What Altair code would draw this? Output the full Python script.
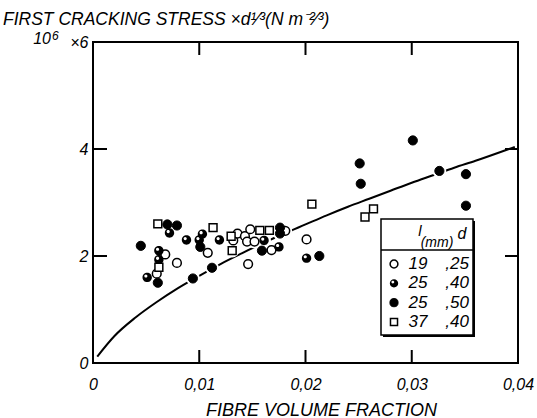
import altair as alt
import pandas as pd

# ---------------- data ----------------
open_x = [0.0068, 0.0060, 0.0079, 0.0108, 0.0132, 0.0136, 0.0143, 0.0146, 0.0148, 0.0145, 0.0152, 0.0168, 0.0181, 0.0201]
open_y = [2.03, 1.67, 1.87, 2.06, 2.29, 2.42, 2.37, 1.85, 2.50, 2.27, 2.27, 2.11, 2.47, 2.31]

half_x = [0.0051, 0.0062, 0.0062, 0.0072, 0.0088, 0.0103, 0.0100, 0.0119, 0.0161, 0.0175, 0.0201]
half_y = [1.60, 2.10, 1.93, 2.43, 2.30, 2.41, 2.30, 2.30, 2.29, 2.17, 1.96]

filled_x = [0.0045, 0.0061, 0.0070, 0.0079, 0.0101, 0.0094, 0.0112, 0.0159, 0.0176, 0.0176,
            0.0213, 0.0251, 0.0252, 0.0301, 0.0326, 0.0351, 0.0351]
filled_y = [2.19, 1.50, 2.59, 2.57, 2.17, 1.58, 1.78, 2.10, 2.53, 2.42,
            2.00, 3.73, 3.35, 4.16, 3.59, 3.53, 2.94]

square_x = [0.0061, 0.0062, 0.0113, 0.0130, 0.0131, 0.0157, 0.0166, 0.0206, 0.0256, 0.0264]
square_y = [2.60, 1.79, 2.53, 2.37, 2.10, 2.48, 2.48, 2.97, 2.73, 2.88]

curve_x = [0.0004, 0.002, 0.004, 0.006, 0.008, 0.010, 0.012, 0.014, 0.016, 0.018,
           0.020, 0.022, 0.024, 0.026, 0.028, 0.030, 0.032, 0.034, 0.036, 0.0397]
curve_y = [0.12, 0.50, 0.85, 1.14, 1.40, 1.63, 1.85, 2.05, 2.24, 2.42,
           2.59, 2.76, 2.92, 3.07, 3.22, 3.37, 3.51, 3.65, 3.78, 4.04]

x_ticks = [0, 0.01, 0.02, 0.03, 0.04]
x_inner_ticks = [0.01, 0.02, 0.03]
y_ticks = [0, 2, 4, 6]
y_inner_ticks = [2, 4]

leg_kind = ["open", "half", "filled", "square"]
leg_l = ["19", "25", "25", "37"]
leg_d = [",25", ",40", ",50", ",40"]

title_text = "FIRST CRACKING STRESS ×d¹⁄³(N m⁻²⁄³)"
x_title = "FIBRE VOLUME FRACTION"
y_mult_base = "10"
y_mult_exp = "6"

# ---------------- frames ----------------
pts = pd.concat([
    pd.DataFrame({"x": open_x, "y": open_y, "kind": "open"}),
    pd.DataFrame({"x": half_x, "y": half_y, "kind": "half"}),
    pd.DataFrame({"x": filled_x, "y": filled_y, "kind": "filled"}),
    pd.DataFrame({"x": square_x, "y": square_y, "kind": "square"}),
], ignore_index=True)
curve = pd.DataFrame({"x": curve_x, "y": curve_y})
xt = pd.DataFrame({"v": x_inner_ticks})
yt = pd.DataFrame({"v": y_inner_ticks})
one = pd.DataFrame({"t": [title_text], "b": [y_mult_base], "e": [y_mult_exp]})
leg = pd.DataFrame({"kind": leg_kind, "l": leg_l, "d": leg_d})

FONT = "Liberation Sans"
HALF = "M-1,0A1,1,0,1,0,1,0A1,1,0,1,0,-1,0ZM-0.62,-0.3A0.34,0.34,0,1,1,0.06,-0.3A0.34,0.34,0,1,1,-0.62,-0.3Z"

xs = alt.Scale(domain=[0, 0.04], nice=False, zero=False)
ys = alt.Scale(domain=[0, 6], nice=False, zero=False)

xaxis = alt.Axis(values=x_ticks, labelExpr="replace(format(datum.value, '.2~f'), '.', ',')",
                 ticks=False, domain=False, grid=False, labelPadding=13, labelFlush=False,
                 labelFont=FONT, labelFontSize=16, labelFontStyle="italic", labelColor="black",
                 title=x_title, titleFont=FONT, titleFontSize=18, titleFontStyle="italic",
                 titleFontWeight="normal", titleColor="black", titlePadding=9, titleX=228)
yaxis = alt.Axis(values=y_ticks,
                 labelExpr="datum.value == 6 ? '×6' : format(datum.value, 'd')",
                 ticks=False, domain=False, grid=False, labelPadding=5, labelFlush=False,
                 labelFont=FONT, labelFontSize=16, labelFontStyle="italic", labelColor="black",
                 labelLimit=200, title=None)

X = alt.X("x:Q", scale=xs, axis=xaxis)
Y = alt.Y("y:Q", scale=ys, axis=yaxis)

line = alt.Chart(curve).mark_line(color="black", strokeWidth=2, interpolate="monotone").encode(x=X, y=Y)
halo = alt.Chart(pts).mark_circle(color="white", size=190, opacity=1).encode(x=X, y=Y)

def layer_kind(kind, mark):
    return alt.Chart(pts).transform_filter(alt.datum.kind == kind).mark_point(**mark).encode(x=X, y=Y)

M_OPEN = dict(shape="circle", filled=True, fill="white", stroke="black", strokeWidth=1.5, size=76, opacity=1)
M_HALF = dict(shape=HALF, filled=True, fill="black", size=88, opacity=1)
M_FILLED = dict(shape="circle", filled=True, fill="black", stroke="black", strokeWidth=1, size=84, opacity=1)
M_SQUARE = dict(shape="square", filled=True, fill="white", stroke="black", strokeWidth=1.5, size=62, opacity=1)

p_open = layer_kind("open", M_OPEN)
p_half = layer_kind("half", M_HALF)
p_filled = layer_kind("filled", M_FILLED)
p_square = layer_kind("square", M_SQUARE)

bot_ticks = alt.Chart(xt).mark_rule(color="black", strokeWidth=2).encode(
    x=alt.X("v:Q", scale=xs), y=alt.value(308), y2=alt.value(321))
top_ticks = alt.Chart(xt).mark_rule(color="black", strokeWidth=2).encode(
    x=alt.X("v:Q", scale=xs), y=alt.value(0), y2=alt.value(13))
left_ticks = alt.Chart(yt).mark_rule(color="black", strokeWidth=2).encode(
    y=alt.Y("v:Q", scale=ys), x=alt.value(0), x2=alt.value(14))
right_ticks = alt.Chart(yt).mark_rule(color="black", strokeWidth=2).encode(
    y=alt.Y("v:Q", scale=ys), x=alt.value(412), x2=alt.value(425))

title = alt.Chart(one).mark_text(align="left", baseline="alphabetic", font=FONT, fontSize=17.5,
                                 fontStyle="italic", color="black").encode(
    text="t:N", x=alt.value(-90), y=alt.value(-17))
mult_base = alt.Chart(one).mark_text(align="right", baseline="alphabetic", font=FONT, fontSize=16,
                                     fontStyle="italic", color="black").encode(
    text="b:N", x=alt.value(-42), y=alt.value(2))
mult_exp = alt.Chart(one).mark_text(align="left", baseline="alphabetic", font=FONT, fontSize=12,
                                    fontStyle="italic", color="black").encode(
    text="e:N", x=alt.value(-41), y=alt.value(-2))

main = alt.layer(line, halo, p_open, p_half, p_filled, p_square,
                 bot_ticks, top_ticks, left_ticks, right_ticks, title, mult_base, mult_exp)

# ---------------- legend box ----------------
LY = alt.Y("kind:N", scale=alt.Scale(domain=leg_kind, range=[222, 280], padding=0), axis=None)

shadow = alt.Chart(one).mark_rect(color="black").encode(
    x=alt.value(290), x2=alt.value(382), y=alt.value(179), y2=alt.value(295))
box = alt.Chart(one).mark_rect(fill="white", stroke="black", strokeWidth=1.5).encode(
    x=alt.value(288), x2=alt.value(380), y=alt.value(177), y2=alt.value(293))
divider = alt.Chart(one).mark_rule(color="black", strokeWidth=1.5).encode(
    x=alt.value(288), x2=alt.value(380), y=alt.value(208))
hdr_l = alt.Chart(one).mark_text(text="l", font=FONT, fontSize=15, fontStyle="italic", color="black").encode(
    x=alt.value(327), y=alt.value(189))
hdr_mm = alt.Chart(one).mark_text(text="(mm)", font=FONT, fontSize=14, fontStyle="italic", color="black").encode(
    x=alt.value(344), y=alt.value(201))
hdr_d = alt.Chart(one).mark_text(text="d", font=FONT, fontSize=16, fontStyle="italic", color="black").encode(
    x=alt.value(369), y=alt.value(192))

def leg_sym(kind, mark):
    m = dict(mark)
    m["size"] = m["size"] * 0.8
    return alt.Chart(leg).transform_filter(alt.datum.kind == kind).mark_point(**m).encode(
        x=alt.value(301), y=LY)

txt_l = alt.Chart(leg).mark_text(align="center", font=FONT, fontSize=17, fontStyle="italic", color="black").encode(
    text="l:N", x=alt.value(325), y=LY)
txt_d = alt.Chart(leg).mark_text(align="right", font=FONT, fontSize=17, fontStyle="italic", color="black").encode(
    text="d:N", x=alt.value(376), y=LY)

legend = alt.layer(shadow, box, divider, hdr_l, hdr_mm, hdr_d,
                   leg_sym("open", M_OPEN), leg_sym("half", M_HALF),
                   leg_sym("filled", M_FILLED), leg_sym("square", M_SQUARE),
                   txt_l, txt_d)

chart = alt.layer(main, legend).resolve_scale(y="independent").properties(
    width=425, height=321,
    padding={"left": 93, "top": 42, "right": 19, "bottom": 55},
    autosize=alt.AutoSizeParams(type="none"),
    background="white",
).configure_view(stroke="black", strokeWidth=2)

chart.save("out.html", embed_options={"renderer": "svg", "actions": False})
